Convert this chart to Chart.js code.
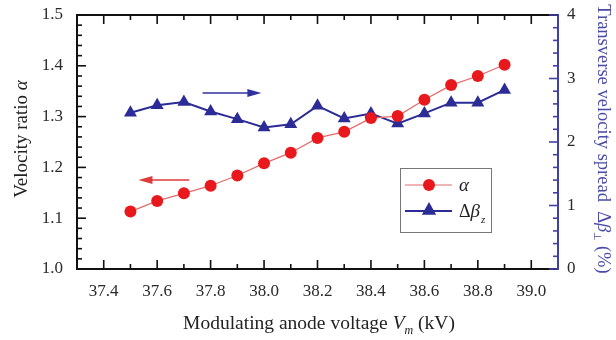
<!DOCTYPE html>
<html>
<head>
<meta charset="utf-8">
<script src="https://cdn.jsdelivr.net/npm/chart.js@4/dist/chart.umd.min.js"></script>
<style>
  html, body { margin: 0; padding: 0; background: #fff; }
  #wrap { width: 616px; height: 340px; }
</style>
</head>
<body>
<div id="wrap"><canvas id="myChart" width="616" height="340"></canvas></div>
<script>
// values
var voltage = [37.5, 37.6, 37.7, 37.8, 37.9, 38.0, 38.1, 38.2, 38.3, 38.4, 38.5, 38.6, 38.7, 38.8, 38.9];
var alphaRatio = [1.113, 1.134, 1.149, 1.164, 1.184, 1.208, 1.229, 1.258, 1.270, 1.297, 1.301, 1.333, 1.362, 1.380, 1.402];
var spread = [2.46, 2.58, 2.63, 2.48, 2.36, 2.23, 2.28, 2.57, 2.37, 2.45, 2.29, 2.45, 2.62, 2.62, 2.82];
var xTicks = [37.4, 37.6, 37.8, 38.0, 38.2, 38.4, 38.6, 38.8, 39.0];
var leftTicks = [1.0, 1.1, 1.2, 1.3, 1.4, 1.5];
var rightTicks = [0, 1, 2, 3, 4];
// arrows in data units: [x from, x to, y] (blue on right axis, red on left axis)
var blueArrow = [37.77, 37.99, 2.77];
var redArrow = [37.72, 37.53, 1.175];

const RED = '#e8181c';
const RED_LINE = '#e56a6a';
const BLUE = '#2c2c96';
const AXIS_BLUE = '#4040a8';
const SERIF = '"Liberation Serif", "Times New Roman", serif';

function pts(xs, ys) {
  var out = [];
  for (var i = 0; i < xs.length; i++) out.push({ x: xs[i], y: ys[i] });
  return out;
}

function drawArrow(ctx, x1, x2, y, color) {
  var dir = x2 > x1 ? 1 : -1;
  ctx.save();
  ctx.strokeStyle = color;
  ctx.fillStyle = color;
  ctx.lineWidth = 1.5;
  ctx.beginPath();
  ctx.moveTo(x1, y);
  ctx.lineTo(x2 - dir * 10, y);
  ctx.stroke();
  ctx.beginPath();
  ctx.moveTo(x2, y);
  ctx.lineTo(x2 - dir * 14, y - 4);
  ctx.lineTo(x2 - dir * 14, y + 4);
  ctx.closePath();
  ctx.fill();
  ctx.restore();
}

function drawTri(ctx, x, y, r, color) {
  ctx.fillStyle = color;
  ctx.beginPath();
  ctx.moveTo(x, y - r);
  ctx.lineTo(x + r * 0.9, y + r * 0.6);
  ctx.lineTo(x - r * 0.9, y + r * 0.6);
  ctx.closePath();
  ctx.fill();
}

// text made of runs with different fonts, centred on 0
function drawRuns(ctx, runs) {
  var total = 0;
  runs.forEach(function(p) { ctx.font = p.f; p.w = ctx.measureText(p.t).width; total += p.w; });
  var cx = -total / 2;
  runs.forEach(function(p) { ctx.font = p.f; ctx.fillText(p.t, cx, p.dy || 0); cx += p.w; });
}

// vertical axes: fixed width, no extra padding for the end labels
function fixVertical(w) {
  return function(s) {
    s.width = w;
    s.paddingTop = 0;
    s.paddingBottom = 0;
  };
}

// draws inward ticks, the top frame line, arrows, legend and axis titles
const decorations = {
  id: 'decorations',
  afterDraw: function(chart) {
    const ctx = chart.ctx;
    const a = chart.chartArea;
    const sx = chart.scales.x, sy = chart.scales.y, sy1 = chart.scales.y1;
    ctx.save();

    // top frame
    ctx.strokeStyle = '#111';
    ctx.lineWidth = 2;
    ctx.beginPath();
    ctx.moveTo(a.left, a.top);
    ctx.lineTo(a.right, a.top);
    ctx.stroke();

    // x ticks (bottom + top)
    ctx.lineWidth = 1.6;
    for (var v = 373; v <= 390; v++) {
      var px = sx.getPixelForValue(v / 10);
      var len = (v % 2 === 0) ? 9 : 5;
      ctx.beginPath();
      ctx.moveTo(px, a.bottom); ctx.lineTo(px, a.bottom - len);
      ctx.moveTo(px, a.top); ctx.lineTo(px, a.top + len);
      ctx.stroke();
    }
    // left ticks
    for (var k = 0; k <= 25; k++) {
      var py = sy.getPixelForValue(1.0 + k * 0.02);
      var l = (k % 5 === 0) ? 9 : 5;
      ctx.beginPath();
      ctx.moveTo(a.left, py); ctx.lineTo(a.left + l, py);
      ctx.stroke();
    }
    // right ticks
    ctx.strokeStyle = AXIS_BLUE;
    for (var k = 0; k <= 20; k++) {
      var py = sy1.getPixelForValue(k * 0.2);
      var l = (k % 5 === 0) ? 9 : 5;
      ctx.beginPath();
      ctx.moveTo(a.right, py); ctx.lineTo(a.right - l, py);
      ctx.stroke();
    }

    // arrows
    drawArrow(ctx, sx.getPixelForValue(blueArrow[0]), sx.getPixelForValue(blueArrow[1]), sy1.getPixelForValue(blueArrow[2]), '#3030a0');
    drawArrow(ctx, sx.getPixelForValue(redArrow[0]), sx.getPixelForValue(redArrow[1]), sy.getPixelForValue(redArrow[2]), '#e03a3a');

    // legend
    ctx.strokeStyle = '#777';
    ctx.lineWidth = 1;
    ctx.strokeRect(400.5, 168.5, 91, 64);
    ctx.strokeStyle = RED_LINE;
    ctx.lineWidth = 1.2;
    ctx.beginPath(); ctx.moveTo(405, 185); ctx.lineTo(452, 185); ctx.stroke();
    ctx.fillStyle = RED;
    ctx.beginPath(); ctx.arc(429, 185, 6, 0, Math.PI * 2); ctx.fill();
    ctx.strokeStyle = BLUE;
    ctx.lineWidth = 1.8;
    ctx.beginPath(); ctx.moveTo(405, 211); ctx.lineTo(452, 211); ctx.stroke();
    drawTri(ctx, 429, 210, 8, BLUE);
    ctx.fillStyle = '#222';
    ctx.textBaseline = 'alphabetic';
    ctx.textAlign = 'left';
    ctx.font = 'italic 19px ' + SERIF;
    ctx.fillText('α', 459, 191);
    ctx.font = '18px ' + SERIF;
    ctx.fillText('Δ', 459, 217);
    var dw = ctx.measureText('Δ').width;
    ctx.font = 'italic 19px ' + SERIF;
    ctx.fillText('β', 459 + dw, 217);
    var bw = ctx.measureText('β').width;
    ctx.font = 'italic 11px ' + SERIF;
    ctx.fillText('z', 459 + dw + bw + 1, 223);

    // x title
    ctx.save();
    ctx.fillStyle = '#222';
    ctx.translate(319, 329);
    drawRuns(ctx, [
      { t: 'Modulating anode voltage ', f: '19.5px ' + SERIF },
      { t: 'V', f: 'italic 19.5px ' + SERIF },
      { t: 'm', f: 'italic 12px ' + SERIF, dy: 5 },
      { t: ' (kV)', f: '19.5px ' + SERIF }
    ]);
    ctx.restore();

    // left title
    ctx.save();
    ctx.fillStyle = '#222';
    ctx.translate(27, 139);
    ctx.rotate(-Math.PI / 2);
    drawRuns(ctx, [
      { t: 'Velocity ratio ', f: '19px ' + SERIF },
      { t: 'α', f: 'italic 19px ' + SERIF }
    ]);
    ctx.restore();

    // right title
    ctx.save();
    ctx.translate(598, 139);
    ctx.rotate(Math.PI / 2);
    ctx.fillStyle = '#4a4aa8';
    drawRuns(ctx, [
      { t: 'Transverse velocity spread  Δ', f: '18.5px ' + SERIF },
      { t: 'β', f: 'italic 18.5px ' + SERIF },
      { t: '⊥', f: '10px ' + SERIF, dy: 4 },
      { t: ' (%)', f: '18.5px ' + SERIF }
    ]);
    ctx.restore();

    ctx.restore();
  }
};

const ctx = document.getElementById('myChart');
const myChart = new Chart(ctx, {
  type: 'line',
  data: {
    datasets: [{
      label: 'α',
      data: pts(voltage, alphaRatio),
      yAxisID: 'y',
      borderColor: RED_LINE,
      borderWidth: 1.2,
      backgroundColor: RED,
      pointBackgroundColor: RED,
      pointBorderWidth: 0,
      pointRadius: 6,
      pointStyle: 'circle',
      tension: 0
    }, {
      label: 'Δβz',
      data: pts(voltage, spread),
      yAxisID: 'y1',
      borderColor: BLUE,
      borderWidth: 2,
      backgroundColor: BLUE,
      pointBackgroundColor: BLUE,
      pointBorderWidth: 0,
      pointRadius: 7.5,
      pointStyle: 'triangle',
      tension: 0
    }]
  },
  options: {
    responsive: false,
    animation: false,
    layout: { padding: { top: 15, left: 0, right: 0, bottom: 0 } },
    plugins: {
      legend: { display: false },
      tooltip: { enabled: false }
    },
    scales: {
      x: {
        type: 'linear',
        min: 37.3,
        max: 39.1,
        afterBuildTicks: function(s) { s.ticks = xTicks.map(function(v) { return { value: v }; }); },
        afterFit: function(s) { s.height = 71; s.paddingLeft = 0; s.paddingRight = 0; },
        grid: { display: false, drawTicks: false },
        border: { display: true, color: '#111', width: 2 },
        ticks: {
          padding: 12,
          color: '#2a2a2a',
          font: { family: SERIF, size: 17 },
          maxRotation: 0,
          callback: function(v) { return v.toFixed(1); }
        }
      },
      y: {
        position: 'left',
        min: 1.0,
        max: 1.5,
        afterBuildTicks: function(s) { s.ticks = leftTicks.map(function(v) { return { value: v }; }); },
        afterFit: fixVertical(77),
        grid: { display: false, drawTicks: false },
        border: { display: true, color: '#111', width: 2 },
        ticks: {
          padding: 14,
          color: '#2a2a2a',
          font: { family: SERIF, size: 17 },
          callback: function(v) { return v.toFixed(1); }
        }
      },
      y1: {
        position: 'right',
        min: 0,
        max: 4,
        afterBuildTicks: function(s) { s.ticks = rightTicks.map(function(v) { return { value: v }; }); },
        afterFit: fixVertical(58),
        grid: { display: false, drawTicks: false },
        border: { display: true, color: AXIS_BLUE, width: 2 },
        ticks: {
          padding: 9,
          color: '#2a2a2a',
          font: { family: SERIF, size: 17 },
          callback: function(v) { return String(v); }
        }
      }
    }
  },
  plugins: [decorations]
});
</script>
</body>
</html>
